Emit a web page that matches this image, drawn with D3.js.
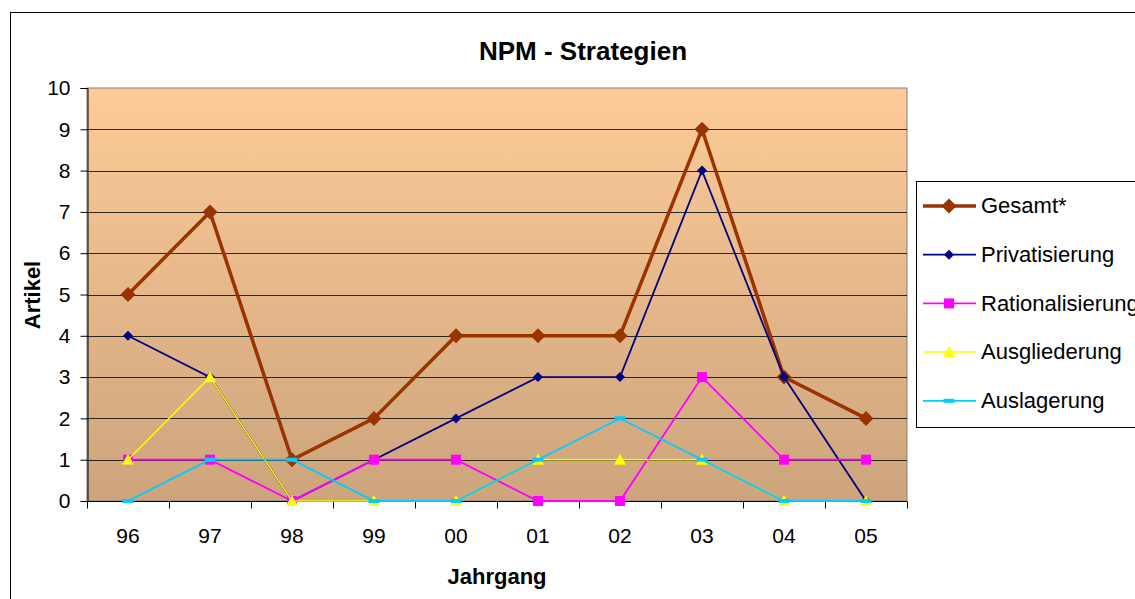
<!DOCTYPE html>
<html>
<head>
<meta charset="utf-8">
<script src="https://cdn.jsdelivr.net/npm/d3@7"></script>
<style>
  html, body { margin: 0; padding: 0; background: #fff; }
  svg { display: block; font-family: Arial, "Liberation Sans", sans-serif; }
</style>
</head>
<body>
<svg id="chart" width="1135" height="599"></svg>
<script>
// Jahrgänge (x-axis categories)
const years = ["96", "97", "98", "99", "00", "01", "02", "03", "04", "05"];

// Artikel counts per series
const gesamt           = [5, 7, 1, 2, 4, 4, 4, 9, 3, 2];
const privatisierung   = [4, 3, 0, 1, 2, 3, 3, 8, 3, 0];
const rationalisierung = [1, 1, 0, 1, 1, 0, 0, 3, 1, 1];
const ausgliederung    = [1, 3, 0, 0, 0, 1, 1, 1, 0, 0];
const auslagerung      = [0, 1, 1, 0, 0, 1, 2, 1, 0, 0];

const yTicks = [0, 1, 2, 3, 4, 5, 6, 7, 8, 9, 10];

const series = [
  { name: "Gesamt*",          values: gesamt,           color: "#993300", width: 3.5, marker: "diamond",  size: 15 },
  { name: "Privatisierung",   values: privatisierung,   color: "#000080", width: 1.8, marker: "diamond",  size: 10 },
  { name: "Rationalisierung", values: rationalisierung, color: "#FF00FF", width: 1.8, marker: "square",   size: 10 },
  { name: "Ausgliederung",    values: ausgliederung,    color: "#FFFF00", width: 1.5, marker: "triangle", size: 12 },
  { name: "Auslagerung",      values: auslagerung,      color: "#00CCFF", width: 1.8, marker: "dash",     size: 11 }
];

const svg = d3.select("#chart");

// Chart area frame
svg.append("rect")
  .attr("x", 10.5).attr("y", 12.5)
  .attr("width", 1200).attr("height", 700)
  .attr("fill", "#fff").attr("stroke", "#000").attr("stroke-width", 1);

const plot = { left: 87, top: 88, right: 907, bottom: 501 };

const x = d3.scaleBand().domain(years).range([plot.left, plot.right]).padding(0);
const y = d3.scaleLinear().domain([0, 10]).range([plot.bottom, plot.top]);

// Plot background gradient
const defs = svg.append("defs");
const grad = defs.append("linearGradient").attr("id", "plotBg")
  .attr("x1", 0).attr("y1", 0).attr("x2", 0).attr("y2", 1);
grad.append("stop").attr("offset", "0%").attr("stop-color", "#FDCB98");
grad.append("stop").attr("offset", "100%").attr("stop-color", "#CDA47C");

svg.append("rect")
  .attr("x", plot.left).attr("y", plot.top)
  .attr("width", plot.right - plot.left).attr("height", plot.bottom - plot.top)
  .attr("fill", "url(#plotBg)")
  .attr("stroke", "#808080").attr("stroke-width", 1);

// Horizontal gridlines
svg.append("g")
  .selectAll("line")
  .data(yTicks.filter(d => d > 0 && d < 10))
  .join("line")
  .attr("x1", plot.left).attr("x2", plot.right)
  .attr("y1", d => Math.round(y(d)) + 0.5).attr("y2", d => Math.round(y(d)) + 0.5)
  .attr("stroke", "#000").attr("stroke-opacity", 0.8).attr("stroke-width", 1);

// Y axis
const yAxis = d3.axisLeft(y).tickValues(yTicks).tickSize(7).tickPadding(10);
const gy = svg.append("g")
  .attr("transform", `translate(${plot.left + 0.5},0)`)
  .call(yAxis);
gy.select(".domain").attr("stroke", "#000");
gy.selectAll(".tick line").attr("stroke", "#000");
gy.selectAll(".tick text")
  .attr("font-size", 21).attr("fill", "#000")
  .attr("font-family", "Arial, 'Liberation Sans', sans-serif");

// X axis: ticks sit at category boundaries, labels at category centres
const gx = svg.append("g").attr("transform", `translate(0,${plot.bottom + 0.5})`);
gx.append("line")
  .attr("x1", plot.left).attr("x2", plot.right)
  .attr("stroke", "#000");
const boundaries = years.map(d => x(d)).concat([x(years[years.length - 1]) + x.bandwidth()]);
gx.selectAll("line.tk").data(boundaries).join("line").attr("class", "tk")
  .attr("x1", d => Math.round(d) + 0.5).attr("x2", d => Math.round(d) + 0.5)
  .attr("y1", 0).attr("y2", 7)
  .attr("stroke", "#000");
gx.selectAll("text").data(years).join("text")
  .attr("x", d => x(d) + x.bandwidth() / 2)
  .attr("y", 41)
  .attr("text-anchor", "middle")
  .attr("font-size", 21)
  .attr("fill", "#000")
  .text(d => d);

// Titles
svg.append("text")
  .attr("x", 583).attr("y", 60)
  .attr("text-anchor", "middle")
  .attr("font-size", 26).attr("font-weight", "bold")
  .text("NPM - Strategien");

svg.append("text")
  .attr("transform", "translate(40,295) rotate(-90)")
  .attr("text-anchor", "middle")
  .attr("font-size", 22).attr("font-weight", "bold")
  .text("Artikel");

svg.append("text")
  .attr("x", 497).attr("y", 584)
  .attr("text-anchor", "middle")
  .attr("font-size", 22).attr("font-weight", "bold")
  .text("Jahrgang");

// Marker drawing
function drawMarker(sel, s) {
  const h = s.size / 2;
  if (s.marker === "diamond") {
    sel.append("path")
      .attr("d", `M0,${-h} L${h},0 L0,${h} L${-h},0 Z`)
      .attr("fill", s.color);
  } else if (s.marker === "square") {
    sel.append("rect")
      .attr("x", -h).attr("y", -h).attr("width", s.size).attr("height", s.size)
      .attr("fill", s.color);
  } else if (s.marker === "triangle") {
    sel.append("path")
      .attr("d", `M0,${-h} L${h},${h * 0.85} L${-h},${h * 0.85} Z`)
      .attr("fill", s.color);
  } else if (s.marker === "dash") {
    sel.append("rect")
      .attr("x", -h).attr("y", -2).attr("width", s.size).attr("height", 4)
      .attr("fill", s.color);
  }
}

const line = d3.line()
  .x((d, i) => x(years[i]) + x.bandwidth() / 2)
  .y(d => y(d));

series.forEach(s => {
  const g = svg.append("g");
  g.append("path")
    .datum(s.values)
    .attr("d", line)
    .attr("fill", "none")
    .attr("stroke", s.color)
    .attr("stroke-width", s.width)
    .attr("stroke-linejoin", "miter");
  s.values.forEach((v, i) => {
    const m = g.append("g")
      .attr("transform", `translate(${x(years[i]) + x.bandwidth() / 2},${y(v)})`);
    drawMarker(m, s);
  });
});

// Legend
const legend = svg.append("g");
legend.append("rect")
  .attr("x", 916.5).attr("y", 181.5)
  .attr("width", 260).attr("height", 246)
  .attr("fill", "#fff").attr("stroke", "#000").attr("stroke-width", 1);

series.forEach((s, i) => {
  const cy = 206 + i * 48.7;
  const row = legend.append("g");
  row.append("line")
    .attr("x1", 923).attr("x2", 976)
    .attr("y1", cy).attr("y2", cy)
    .attr("stroke", s.color).attr("stroke-width", s.width);
  const m = row.append("g").attr("transform", `translate(949,${cy})`);
  drawMarker(m, s);
  row.append("text")
    .attr("x", 981).attr("y", cy)
    .attr("dy", "0.33em")
    .attr("font-size", 22)
    .attr("fill", "#000")
    .text(s.name);
});
</script>
</body>
</html>
